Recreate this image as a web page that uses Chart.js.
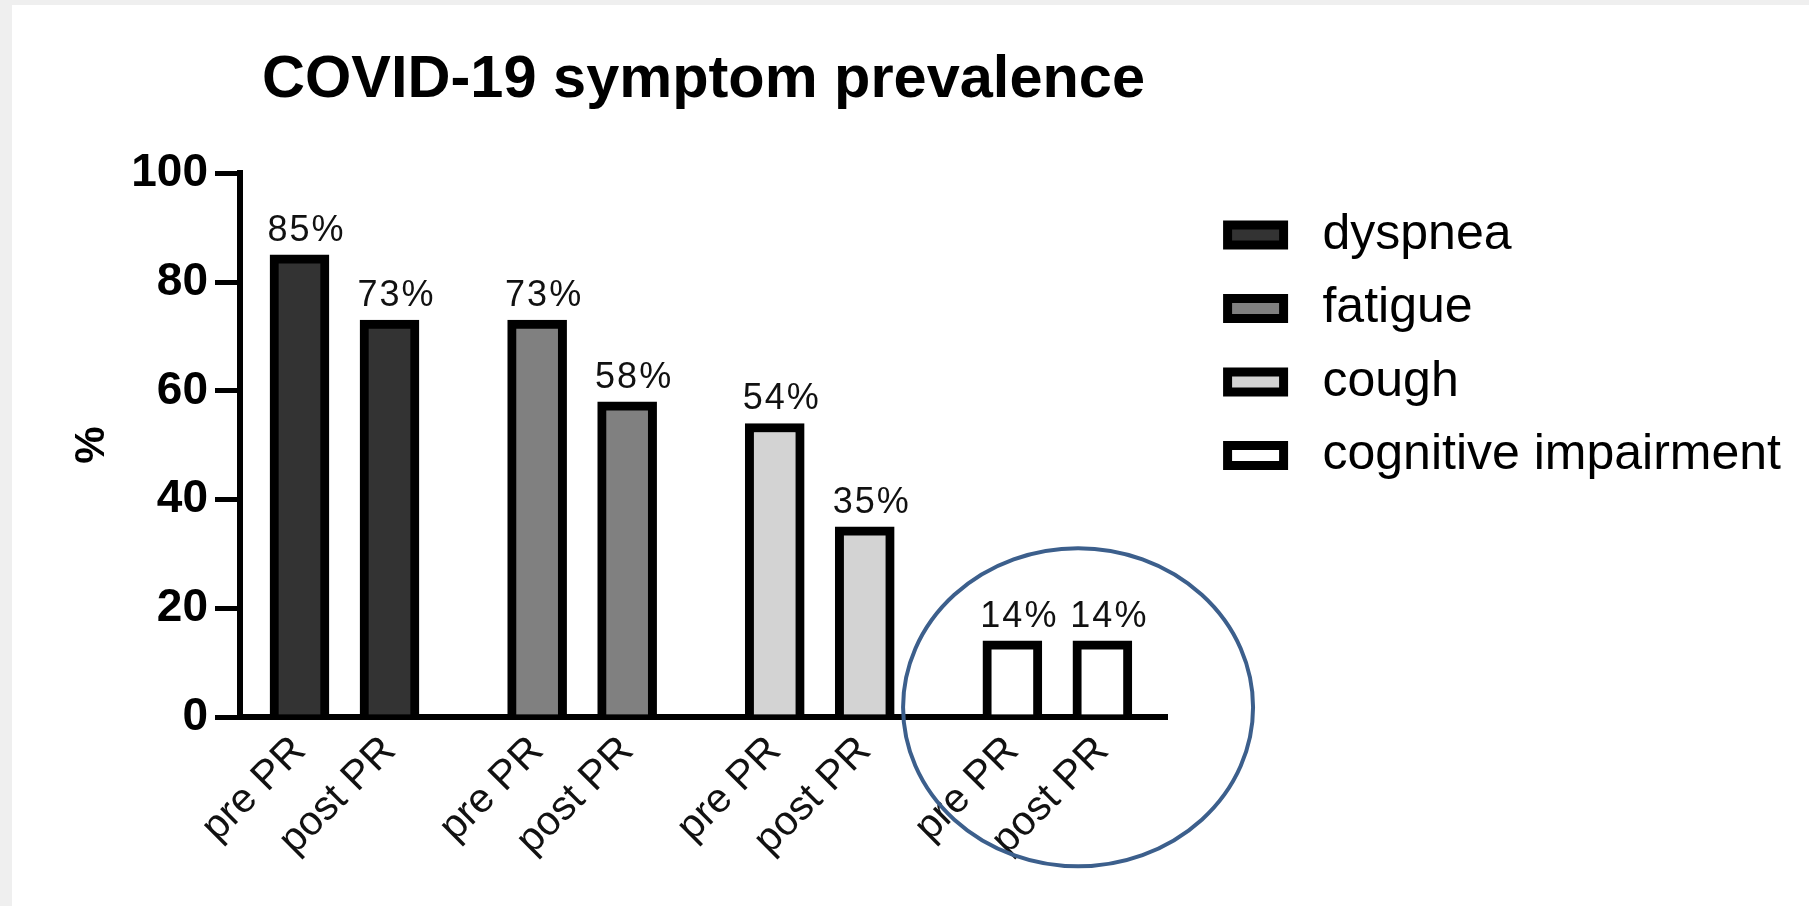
<!DOCTYPE html>
<html>
<head>
<meta charset="utf-8">
<title>COVID-19 symptom prevalence</title>
<script src="https://cdn.jsdelivr.net/npm/chart.js@4.4.1/dist/chart.umd.min.js"></script>
<style>
  html, body { margin: 0; padding: 0; background: #efefef; }
  #frame { position: absolute; left: 12px; top: 5px; width: 1797px; height: 901px; background: #fff; }
  #chart { display: block; }
</style>
</head>
<body>
<div id="frame"><canvas id="chart" width="1797" height="901"></canvas></div>
<script>
const symptoms = ["dyspnea", "fatigue", "cough", "cognitive impairment"];
const stages = ["pre PR", "post PR"];
const prePR = [85, 73, 54, 14];
const postPR = [73, 58, 35, 14];
const yTicks = [0, 20, 40, 60, 80, 100];
const fills = ["#333333", "#808080", "#d3d3d3", "#ffffff"];

// pre/post bars of a symptom sit one unit apart, symptoms GROUP_STEP apart
const GROUP_STEP = 2.64;
const slot = (g, s) => g * GROUP_STEP + s;

const xSlots = [];
const xLabels = [];
symptoms.forEach((_, g) => stages.forEach((st, s) => {
  xSlots.push(slot(g, s));
  xLabels.push(st);
}));

Chart.defaults.font.family = "'Liberation Sans', Arial, sans-serif";
Chart.defaults.color = "#000";

const datasets = symptoms.map((name, g) => ({
  label: name,
  data: [
    { x: slot(g, 0), y: prePR[g] },
    { x: slot(g, 1), y: postPR[g] }
  ],
  backgroundColor: fills[g],
  borderColor: "#000",
  borderWidth: 9,
  borderSkipped: "start",
  barThickness: 59,
  grouped: false
}));

// percentage text above every bar
const valueLabels = {
  id: "valueLabels",
  afterDatasetsDraw(chart) {
    const ctx = chart.ctx;
    ctx.save();
    ctx.font = "36px 'Liberation Sans', Arial, sans-serif";
    ctx.letterSpacing = "2px";
    ctx.fillStyle = "#111";
    ctx.textAlign = "center";
    ctx.textBaseline = "bottom";
    chart.data.datasets.forEach((ds, i) => {
      chart.getDatasetMeta(i).data.forEach((bar, j) => {
        ctx.fillText(ds.data[j].y + "%", bar.x + 7, bar.y - 6);
      });
    });
    ctx.restore();
  }
};

// hand-drawn style ring around the cognitive impairment pair
const highlight = {
  id: "highlight",
  afterDraw(chart) {
    const { x, y } = chart.scales;
    const g = symptoms.length - 1;
    const cx = x.getPixelForValue(slot(g, 0.5) + 0.23);
    const cy = y.getPixelForValue(1.8);
    const ctx = chart.ctx;
    ctx.save();
    ctx.beginPath();
    ctx.ellipse(cx, cy, 175, 159, 0, 0, Math.PI * 2);
    ctx.strokeStyle = "#3c5f8c";
    ctx.lineWidth = 4;
    ctx.stroke();
    ctx.restore();
  }
};

new Chart(document.getElementById("chart"), {
  type: "bar",
  data: { datasets },
  options: {
    responsive: false,
    animation: false,
    layout: { padding: { left: 0, right: 18, top: 0, bottom: 0 } },
    scales: {
      x: {
        type: "linear",
        offset: false,
        min: -0.661,
        max: 9.639,
        z: 1,
        afterBuildTicks: axis => { axis.ticks = xSlots.map(v => ({ value: v })); },
        afterFit: axis => { axis.height = 189; },
        grid: { display: false, drawTicks: false, offset: false },
        border: { display: true, color: "#000", width: 6 },
        ticks: {
          autoSkip: false,
          minRotation: 45,
          maxRotation: 45,
          padding: 10,
          color: "#111",
          font: { size: 41 },
          callback: (v, i) => xLabels[i]
        }
      },
      y: {
        min: 0,
        max: 100,
        afterBuildTicks: axis => { axis.ticks = yTicks.map(v => ({ value: v })); },
        afterFit: axis => { axis.width = 228; },
        grid: { drawOnChartArea: false, drawTicks: true, tickLength: 25, tickWidth: 5, lineWidth: 5, color: "#000" },
        border: { color: "#000", width: 6 },
        ticks: { padding: 7, color: "#000", font: { size: 46, weight: "bold" } },
        title: { display: true, text: "%", color: "#000", font: { size: 42, weight: "bold" }, padding: { top: 55, bottom: 0 } }
      },
      gap: {
        type: "linear",
        position: "right",
        grid: { display: false },
        border: { display: false },
        ticks: { display: false },
        afterFit: axis => { axis.width = 37; }
      }
    },
    plugins: {
      title: {
        display: true,
        text: "COVID-19 symptom prevalence",
        fullSize: false,
        align: "center",
        color: "#000",
        font: { size: 59.5, weight: "bold" },
        padding: { top: 40, bottom: 57 }
      },
      legend: {
        position: "right",
        align: "start",
        fullSize: false,
        maxWidth: 620,
        title: { display: true, text: "", font: { size: 0 }, padding: { top: 13, bottom: 0 } },
        labels: {
          color: "#000",
          font: { size: 50 },
          boxWidth: 56,
          boxHeight: 20,
          padding: 23.5,
          generateLabels: chart => Chart.defaults.plugins.legend.labels.generateLabels(chart)
            .map(item => ({ ...item, text: " " + item.text }))
        }
      },
      tooltip: { enabled: false }
    }
  },
  plugins: [valueLabels, highlight]
});
</script>
</body>
</html>
